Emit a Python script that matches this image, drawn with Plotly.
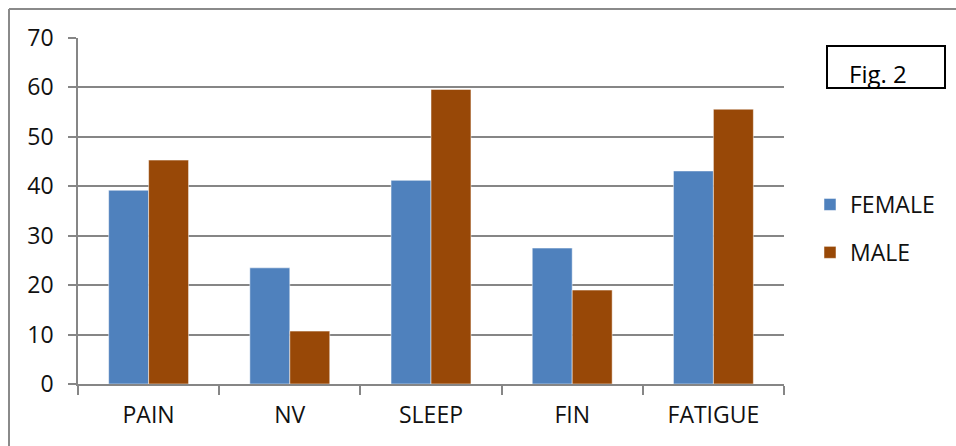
import plotly.graph_objects as go

categories = ["PAIN", "NV", "SLEEP", "FIN", "FATIGUE"]
female = [39.2, 23.5, 41.2, 27.5, 43.1]
male = [45.3, 10.7, 59.6, 19.0, 55.6]
y_ticks = [0, 10, 20, 30, 40, 50, 60, 70]

FONT = "Open Sans"
fig = go.Figure()
fig.add_trace(go.Bar(x=categories, y=female, name="FEMALE", marker_color="#4F81BD",
                     marker_line_color="white", marker_line_width=0.5, legendgroup="f"))
fig.add_trace(go.Bar(x=categories, y=male, name="MALE", marker_color="#984807",
                     marker_line_color="white", marker_line_width=0.5, legendgroup="m"))

L, R, T, B = 78, 172, 38, 62
W, H = 956, 446
pw, ph = W - L - R, H - T - B

def px(x):
    return (x - L) / pw

def py(y):
    return (H - B - y) / ph

fig.update_layout(
    width=W, height=H, autosize=False,
    margin=dict(l=L, r=R, t=T, b=B, autoexpand=False),
    paper_bgcolor="white", plot_bgcolor="white",
    font=dict(family=FONT, size=23, color="#111111"),
    barmode="group", bargap=0.434, bargroupgap=0,
    legend=dict(x=px(810), y=py(183), xanchor="left", yanchor="top",
                traceorder="grouped", tracegroupgap=15,
                font=dict(size=23), itemwidth=30, bgcolor="rgba(0,0,0,0)"),
    xaxis=dict(showline=True, linecolor="#868686", linewidth=1.5,
               ticks="outside", ticklen=9, tickcolor="#868686", tickwidth=1.5,
               tickson="boundaries", showgrid=False, ticklabelstandoff=10),
    yaxis=dict(range=[0, 70], tickvals=y_ticks, showline=True, linecolor="#868686",
               linewidth=1.5, ticks="outside", ticklen=8, tickcolor="#868686",
               tickwidth=1.5, showgrid=True, gridcolor="#868686", gridwidth=1.5,
               zeroline=False, ticklabelstandoff=10),
    shapes=[
        dict(type="line", xref="paper", yref="paper", x0=px(9), x1=px(960), y0=py(9), y1=py(9),
             line=dict(color="#8a8a8a", width=2)),
        dict(type="line", xref="paper", yref="paper", x0=px(9), x1=px(9), y0=py(9), y1=py(460),
             line=dict(color="#8a8a8a", width=2)),
        dict(type="rect", xref="paper", yref="paper", x0=px(827), x1=px(945), y0=py(88), y1=py(46),
             line=dict(color="black", width=2)),
    ],
    annotations=[
        dict(text="Fig. 2", xref="paper", yref="paper", x=px(878), y=py(73),
             showarrow=False, font=dict(size=24, color="black"), xanchor="center", yanchor="middle"),
    ],
)

fig.write_html(
    "out.html",
    config={"responsive": False, "displayModeBar": False},
    post_script="document.body.style.margin='0px';document.body.style.overflow='hidden';",
)
